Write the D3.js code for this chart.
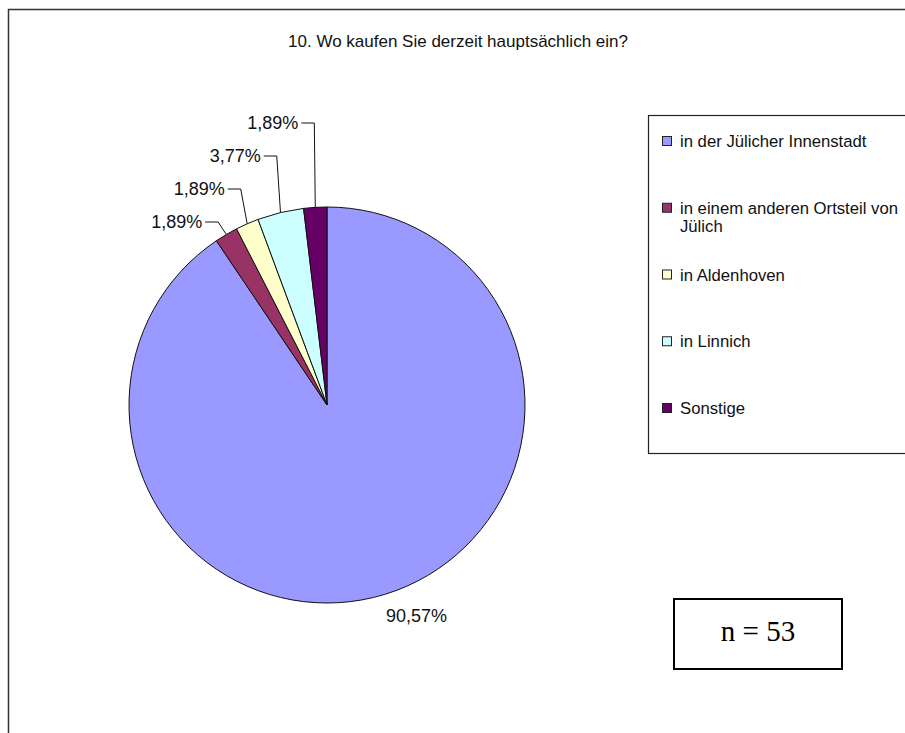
<!DOCTYPE html>
<html>
<head>
<meta charset="utf-8">
<script src="https://cdn.jsdelivr.net/npm/d3@7"></script>
<style>
  html, body { margin: 0; padding: 0; background: #fff; }
  svg { display: block; font-family: "Liberation Sans", Arial, sans-serif; }
</style>
</head>
<body>
<svg id="chart" width="905" height="733"></svg>
<script>
// Survey question 10: where respondents mainly shop (n = 53)
const title = "10. Wo kaufen Sie derzeit hauptsächlich ein?";
const categories = [
  "in der Jülicher Innenstadt",
  "in einem anderen Ortsteil von Jülich",
  "in Aldenhoven",
  "in Linnich",
  "Sonstige"
];
const counts = [48, 1, 1, 2, 1];
const colors = ["#9999FF", "#993366", "#FFFFCC", "#CCFFFF", "#660066"];
const sampleLabel = "n = 53";

const total = d3.sum(counts);
const fmtPct = v => (v / total * 100).toFixed(2).replace(".", ",") + "%";

const svg = d3.select("#chart");

// outer chart frame (continues past the right and bottom edges)
svg.append("rect")
  .attr("x", 8.5).attr("y", 9.5)
  .attr("width", 1000).attr("height", 1000)
  .attr("fill", "none").attr("stroke", "#333").attr("stroke-width", 1.5);

svg.append("text")
  .attr("x", 458).attr("y", 47)
  .attr("text-anchor", "middle")
  .attr("font-size", 17)
  .attr("fill", "#111")
  .text(title);

// ---- pie ----
const cx = 327, cy = 405, R = 198;
const pie = d3.pie().sort(null).value(d => d);
const arcs = pie(counts);
const arc = d3.arc().innerRadius(0).outerRadius(R);

const g = svg.append("g").attr("transform", `translate(${cx},${cy})`);

g.selectAll("path.slice")
  .data(arcs)
  .join("path")
  .attr("class", "slice")
  .attr("d", arc)
  .attr("fill", (d, i) => colors[i])
  .attr("stroke", "#111")
  .attr("stroke-width", 1);

const mid = d => (d.startAngle + d.endAngle) / 2;
const onRim = (a, r) => [Math.sin(a) * r, -Math.cos(a) * r];

// large slice: label just outside the rim
arcs.filter(d => d.value / total > 0.5).forEach(d => {
  const [x, y] = onRim(mid(d), R + 18);
  g.append("text")
    .attr("x", x - 4).attr("y", y + 4)
    .attr("dominant-baseline", "central")
    .attr("font-size", 18)
    .attr("fill", "#111")
    .text(fmtPct(d.value));
});

// small slices: stacked labels with elbow leader lines
const small = arcs.filter(d => d.value / total <= 0.5);
const rowTop = 123 - cy, rowStep = 33;
small.forEach((d, k) => {
  const a = mid(d);
  const [ax, ay] = onRim(a, R);
  const row = small.length - 1 - k;
  const ly = rowTop + row * rowStep;
  const ex = ax + Math.sin(a) * 16;
  const hx = ex - 13;
  g.append("polyline")
    .attr("points", [[ax, ay], [ex, ly], [hx, ly]].map(p => p.join(",")).join(" "))
    .attr("fill", "none")
    .attr("stroke", "#111")
    .attr("stroke-width", 1);
  g.append("text")
    .attr("x", hx - 3).attr("y", ly)
    .attr("text-anchor", "end")
    .attr("dominant-baseline", "central")
    .attr("font-size", 18)
    .attr("fill", "#111")
    .text(fmtPct(d.value));
});

// ---- legend ----
const legend = svg.append("g");
legend.append("rect")
  .attr("x", 648.5).attr("y", 115.5)
  .attr("width", 300).attr("height", 338)
  .attr("fill", "#fff").attr("stroke", "#222").attr("stroke-width", 1.2);

const ly = d3.scalePoint().domain(categories).range([141, 408]);
const textX = 680, maxW = 224, lineH = 18;

categories.forEach((c, i) => {
  const y = ly(c);
  legend.append("rect")
    .attr("x", 662.5).attr("y", y - 4.5)
    .attr("width", 9).attr("height", 9)
    .attr("fill", colors[i]).attr("stroke", "#222").attr("stroke-width", 1);
  const t = legend.append("text")
    .attr("x", textX).attr("y", y)
    .attr("dominant-baseline", "central")
    .attr("font-size", 16.7)
    .attr("fill", "#111");
  // greedy word wrap inside the legend box
  const words = c.split(" ");
  let line = [], lineNo = 0;
  let span = t.append("tspan").attr("x", textX).attr("dy", 0);
  words.forEach(w => {
    line.push(w);
    span.text(line.join(" "));
    if (span.node().getComputedTextLength() > maxW && line.length > 1) {
      line.pop();
      span.text(line.join(" "));
      line = [w];
      lineNo++;
      span = t.append("tspan").attr("x", textX).attr("dy", lineH).text(w);
    }
  });
});

// ---- sample size box ----
svg.append("rect")
  .attr("x", 674).attr("y", 599)
  .attr("width", 168).attr("height", 70)
  .attr("fill", "#fff").attr("stroke", "#000").attr("stroke-width", 2);
svg.append("text")
  .attr("x", 758).attr("y", 641)
  .attr("text-anchor", "middle")
  .attr("font-family", "'Liberation Serif', 'Times New Roman', serif")
  .attr("font-size", 29)
  .attr("fill", "#000")
  .text(sampleLabel);
</script>
</body>
</html>
